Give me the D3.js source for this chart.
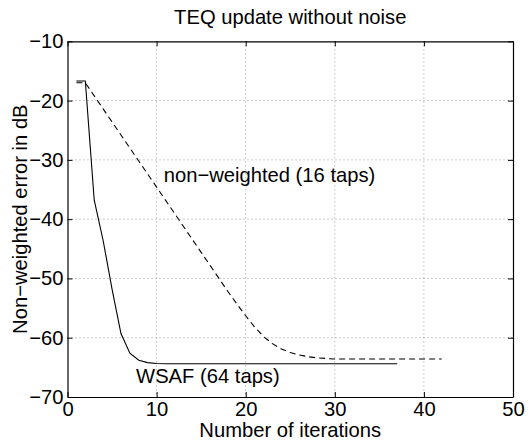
<!DOCTYPE html>
<html>
<head>
<meta charset="utf-8">
<script src="https://cdn.jsdelivr.net/npm/d3@7"></script>
<style>
  html, body { margin: 0; padding: 0; background: #fff; }
  svg { display: block; }
  text { font-family: "Liberation Sans", Arial, Helvetica, sans-serif; fill: #000; }
</style>
</head>
<body>
<svg id="chart" width="531" height="444"></svg>
<script>
// Iteration index and error (dB) for the two adaptive TEQ updates
const wsafIter = d3.range(1, 38);
const wsafErr = [-16.7, -16.7, -36.8, -43.6, -51.8, -59.3, -62.6, -63.8, -64.2, -64.35,
  -64.4, -64.4, -64.4, -64.4, -64.4, -64.4, -64.4, -64.4, -64.4, -64.4,
  -64.4, -64.4, -64.4, -64.4, -64.4, -64.4, -64.4, -64.4, -64.4, -64.4,
  -64.4, -64.4, -64.4, -64.4, -64.4, -64.4, -64.4];

const nwIter = d3.range(1, 43);
const nwErr = [-17.0, -17.0, -19.2, -21.4, -23.6, -25.8, -28.0, -30.2, -32.4, -34.6,
  -36.8, -39.0, -41.2, -43.4, -45.6, -47.8, -50.0, -52.2, -54.3, -56.3,
  -58.2, -59.8, -61.0, -61.9, -62.5, -62.9, -63.2, -63.4, -63.5, -63.6,
  -63.6, -63.6, -63.6, -63.6, -63.6, -63.6, -63.6, -63.6, -63.6, -63.6,
  -63.6, -63.6];

const xTicks = [0, 10, 20, 30, 40, 50];
const yTicks = [-70, -60, -50, -40, -30, -20, -10];

const titleText = "TEQ update without noise";
const xLabel = "Number of iterations";
const yLabel = "Non\u2212weighted error in dB";
const labelNW = { text: "non\u2212weighted (16 taps)", x: 10.8, y: -32.8 };
const labelWSAF = { text: "WSAF (64 taps)", x: 7.7, y: -66.8 };

const svg = d3.select("#chart");
const plotL = 67.5, plotR = 513, plotT = 41.3, plotB = 397;
const fs = 20.2;

const x = d3.scaleLinear().domain([0, 50]).range([plotL, plotR]);
const y = d3.scaleLinear().domain([-70, -10]).range([plotB, plotT]);

// dotted grid
const grid = svg.append("g").attr("stroke", "#999").attr("stroke-width", 1)
  .attr("stroke-dasharray", "1,3");
xTicks.filter(t => t > 0 && t < 50).forEach(t => {
  grid.append("line").attr("x1", x(t)).attr("x2", x(t)).attr("y1", plotT).attr("y2", plotB);
});
yTicks.filter(t => t > -70 && t < -10).forEach(t => {
  grid.append("line").attr("x1", plotL).attr("x2", plotR).attr("y1", y(t)).attr("y2", y(t));
});

// axes with inward ticks, box around the plot
const fmt = d => d < 0 ? "\u2212" + Math.abs(d) : String(d);
const gx = svg.append("g").attr("transform", `translate(0,${plotB})`)
  .call(d3.axisBottom(x).tickValues(xTicks).tickSizeInner(-5).tickSizeOuter(0).tickPadding(4).tickFormat(fmt));
const gy = svg.append("g").attr("transform", `translate(${plotL},0)`)
  .call(d3.axisLeft(y).tickValues(yTicks).tickSizeInner(-5).tickSizeOuter(0).tickPadding(4).tickFormat(fmt));
const gx2 = svg.append("g").attr("transform", `translate(0,${plotT})`)
  .call(d3.axisTop(x).tickValues(xTicks).tickSizeInner(-5).tickSizeOuter(0).tickFormat(""));
const gy2 = svg.append("g").attr("transform", `translate(${plotR},0)`)
  .call(d3.axisRight(y).tickValues(yTicks).tickSizeInner(-5).tickSizeOuter(0).tickFormat(""));
[gx, gy, gx2, gy2].forEach(g => {
  g.select(".domain").attr("stroke", "#000").attr("stroke-width", 1.2);
  g.selectAll(".tick line").attr("stroke", "#000");
  g.selectAll(".tick text").attr("font-size", fs).attr("font-family", "Liberation Sans, Arial, sans-serif").attr("fill", "#000");
});
gx.selectAll(".tick text").attr("dy", "0.72em");

// data lines
const line = d3.line().x(d => x(d[0])).y(d => y(d[1]));
svg.append("path")
  .datum(wsafIter.map((v, i) => [v, wsafErr[i]]))
  .attr("d", line).attr("fill", "none").attr("stroke", "#000").attr("stroke-width", 1.1);
svg.append("path")
  .datum(nwIter.map((v, i) => [v, nwErr[i]]))
  .attr("d", line).attr("fill", "none").attr("stroke", "#000").attr("stroke-width", 1.1)
  .attr("stroke-dasharray", "6,4");

// in-plot labels
[labelNW, labelWSAF].forEach(l => {
  svg.append("text").attr("x", x(l.x)).attr("y", y(l.y))
    .attr("dominant-baseline", "middle").attr("font-size", fs).text(l.text);
});

// title and axis labels
svg.append("text").attr("x", (plotL + plotR) / 2).attr("y", 24)
  .attr("text-anchor", "middle").attr("font-size", fs).text(titleText);
svg.append("text").attr("x", (plotL + plotR) / 2).attr("y", 437)
  .attr("text-anchor", "middle").attr("font-size", fs).text(xLabel);
svg.append("text")
  .attr("transform", `translate(27,${(plotT + plotB) / 2}) rotate(-90)`)
  .attr("text-anchor", "middle").attr("font-size", fs).text(yLabel);
</script>
</body>
</html>
